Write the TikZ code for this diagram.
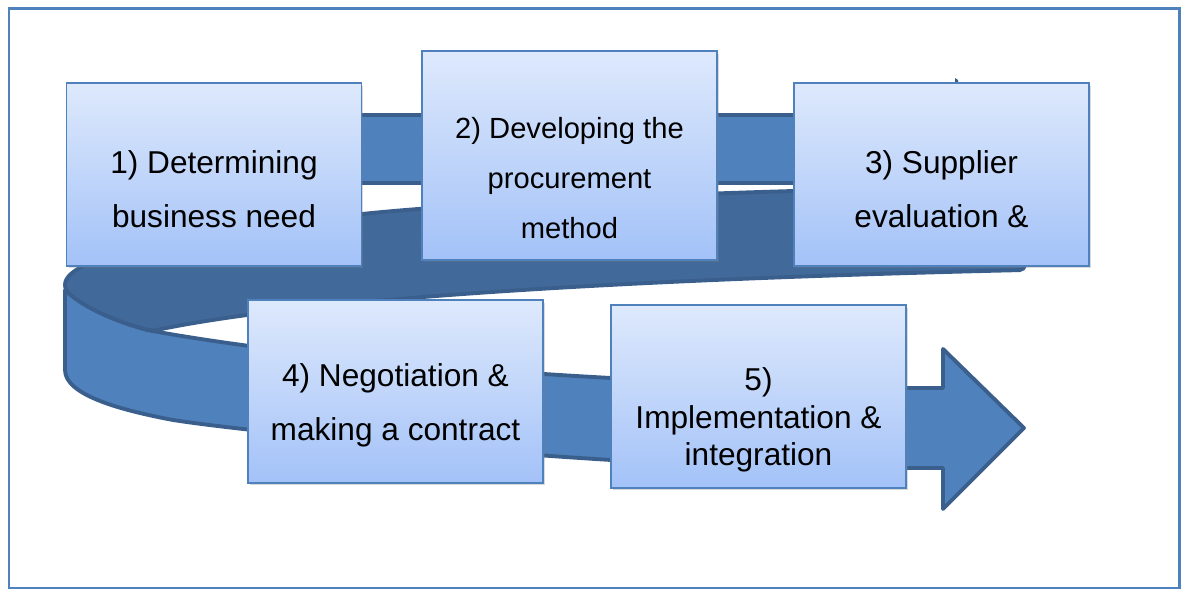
\documentclass[tikz,border=0pt]{standalone}
\usepackage{fontspec}
\setmainfont{Liberation Sans}
\usepackage{xcolor}
\usepackage{tikz}
\usetikzlibrary{shadows}
\definecolor{framecol}{HTML}{4F81BD}
\definecolor{bandfront}{HTML}{4F81BD}
\definecolor{bandback}{HTML}{41699A}
\definecolor{bandedge}{HTML}{3A5F8C}
\definecolor{boxtop}{HTML}{DEE9FC}
\definecolor{boxbottom}{HTML}{A3C2F8}
\begin{document}
\begin{tikzpicture}[x=0.02cm, y=-0.02cm,
            band/.style={fill=bandfront, draw=bandedge, line width=2.2pt, line join=round},
            backband/.style={band, fill=bandback},
            stepbox/.style={draw=framecol, line width=1.1pt, top color=boxtop, bottom color=boxbottom,
              minimum width=5.9cm, minimum height=3.66cm,
              drop shadow={shadow xshift=0.04cm, shadow yshift=-0.05cm, opacity=0.3}},
            steptext/.style={align=center, font=\fontsize{18}{30.6}\selectfont}]
            \useasboundingbox (0,0) rectangle (1186,590);
            \draw [framecol, line width=1.7pt] (9,9) rectangle (1179,588);
            \draw [backband, rounded corners=3pt] (1025,187) .. controls (800,188) and (500,200) .. (362,214)
              .. controls (200,230) and (65,255) .. (65,290)
              .. controls (80,305) and (110,320) .. (152,331)
              .. controls (300,300) and (600,280) .. (1025,270) -- cycle;
            \draw [band] (300,115) rectangle (960,183);
            \fill [bandedge] (955,78) -- (958,80) -- (958,84) -- (955,84) -- cycle;
            \draw [band] (65,290) .. controls (80,305) and (110,320) .. (147,330)
              .. controls (300,358) and (500,372) .. (611,378) -- (906,388) -- (943,388)
              -- (943,349) -- (1024,428) -- (943,509) -- (943,468) -- (906,468) -- (611,460)
              .. controls (450,450) and (250,432) .. (173,420)
              .. controls (120,410) and (65,395) .. (65,370) -- cycle;
            \node [stepbox, label={[steptext, yshift=-0.29cm]center:{1) Determining\\business need}}] (need) at (214,174.5) {};
            \node [stepbox, minimum height=4.18cm, label={[steptext, font=\fontsize{16.6}{28.3}\selectfont, yshift=-0.45cm]center:{2) Developing the\\procurement\\method}}] (method) at (569.5,155.5) {};
            \node [stepbox, label={[steptext, yshift=-0.29cm]center:{3) Supplier\\evaluation \&}}] (supplier) at (941.5,174.5) {};
            \node [stepbox, label={[steptext, yshift=-0.27cm]center:{4) Negotiation \&\\making a contract}}] (contract) at (395.5,391.5) {};
            \node [stepbox, label={[steptext, font=\fontsize{18}{21.5}\selectfont, yshift=-0.47cm]center:{5)\\Implementation \&\\integration}}] (integration) at (758.5,396.5) {};
        \end{tikzpicture}
\end{document}
